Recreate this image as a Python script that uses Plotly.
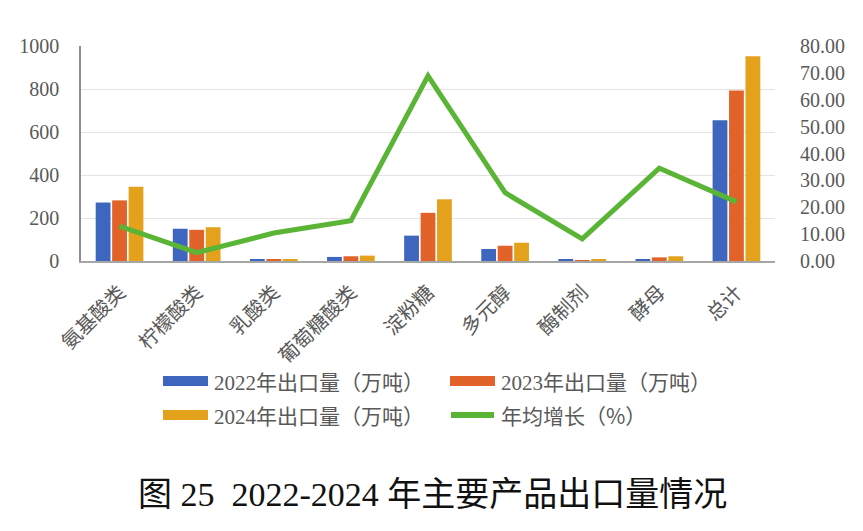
import plotly.graph_objects as go

categories = ["氨基酸类", "柠檬酸类", "乳酸类", "葡萄糖酸类", "淀粉糖", "多元醇", "酶制剂", "酵母", "总计"]
export_2022 = [272, 150, 5, 19, 118, 56, 6, 9, 655]
export_2023 = [282, 145, 5, 22, 224, 71, 4, 17, 793]
export_2024 = [345, 157, 6, 25, 287, 85, 7, 22, 952]
growth = [13.0, 3.1, 10.4, 15.0, 68.9, 25.4, 8.2, 34.5, 22.0]

series_years = ["2022", "2023", "2024"]
series_suffix = "年出口量（万吨）"
growth_name = "年均增长（%）"
series_names = [y + series_suffix for y in series_years] + [growth_name]
colors = ["#3F66BE", "#E2632A", "#E3A11C", "#5AB536"]

FONT = "Liberation Serif, Noto Sans CJK SC, serif"
TICK_COLOR = "#595959"

def latin(s):
    return '<span style="font-family:Liberation Serif">' + s + '</span>'

def cjk(s):
    return '<span style="font-family:Noto Sans CJK SC">' + s + '</span>'

fig = go.Figure()
for vals, name, col in zip([export_2022, export_2023, export_2024], series_names[:3], colors[:3]):
    fig.add_trace(go.Bar(x=categories, y=vals, name=name, marker_color=col,
                         marker_line_width=0, yaxis="y"))
fig.add_trace(go.Scatter(x=categories, y=growth, name=series_names[3], mode="lines",
                         line=dict(color=colors[3], width=5), yaxis="y2"))

fig.update_layout(
    width=863, height=531,
    margin=dict(l=81, r=88, t=46, b=270),
    paper_bgcolor="white", plot_bgcolor="white",
    barmode="group", bargap=0.36, bargroupgap=0.1,
    showlegend=False,
    font=dict(family=FONT, color=TICK_COLOR),
    xaxis=dict(showline=True, linecolor="#A6A6A6", linewidth=1.5, tickangle=-45,
               tickfont=dict(size=20, color=TICK_COLOR), ticks="", showgrid=False,
               ticklabelstandoff=10),
    yaxis=dict(range=[0, 1000], dtick=200, showline=True, linecolor="#8C8C8C", linewidth=1.5,
               gridcolor="#E3E3E3", gridwidth=1, tickfont=dict(size=20, color=TICK_COLOR),
               ticks="", zeroline=False, ticklabelstandoff=16),
    yaxis2=dict(range=[0, 80], dtick=10, overlaying="y", side="right", tickformat=".2f",
                showgrid=False, showline=False, zeroline=False,
                tickfont=dict(size=20, color=TICK_COLOR), ticks="", ticklabelstandoff=24),
)

def py(ypix):
    top, bottom = 46, 261
    return (bottom - ypix) / (bottom - top)

def px(xpix):
    left, right = 81, 775
    return (xpix - left) / (right - left)

legend_texts = [latin(y) + cjk(series_suffix) for y in series_years] + [cjk(growth_name)]
legend_items = [(0, 163, 381), (1, 450, 381), (2, 163, 415), (3, 450, 415)]
for idx, x0, yc in legend_items:
    if idx < 3:
        fig.add_shape(type="rect", xref="paper", yref="paper",
                      x0=px(x0), x1=px(x0 + 45), y0=py(yc + 5), y1=py(yc - 5),
                      fillcolor=colors[idx], line_width=0)
    else:
        fig.add_shape(type="line", xref="paper", yref="paper",
                      x0=px(x0 + 1), x1=px(x0 + 44), y0=py(yc), y1=py(yc),
                      line=dict(color=colors[idx], width=6))
    fig.add_annotation(xref="paper", yref="paper", x=px(x0 + 49), y=py(yc),
                       xanchor="left", yanchor="middle", showarrow=False,
                       text=legend_texts[idx], font=dict(size=21, color=TICK_COLOR, family=FONT))

title_text = cjk("图") + latin(" 25  2022-2024 ") + cjk("年主要产品出口量情况")
fig.add_annotation(xref="paper", yref="paper", x=px(432), y=py(492),
                   xanchor="center", yanchor="middle", showarrow=False,
                   text=title_text,
                   font=dict(size=34, color="#111111", family=FONT))

fig.write_html("out.html")
